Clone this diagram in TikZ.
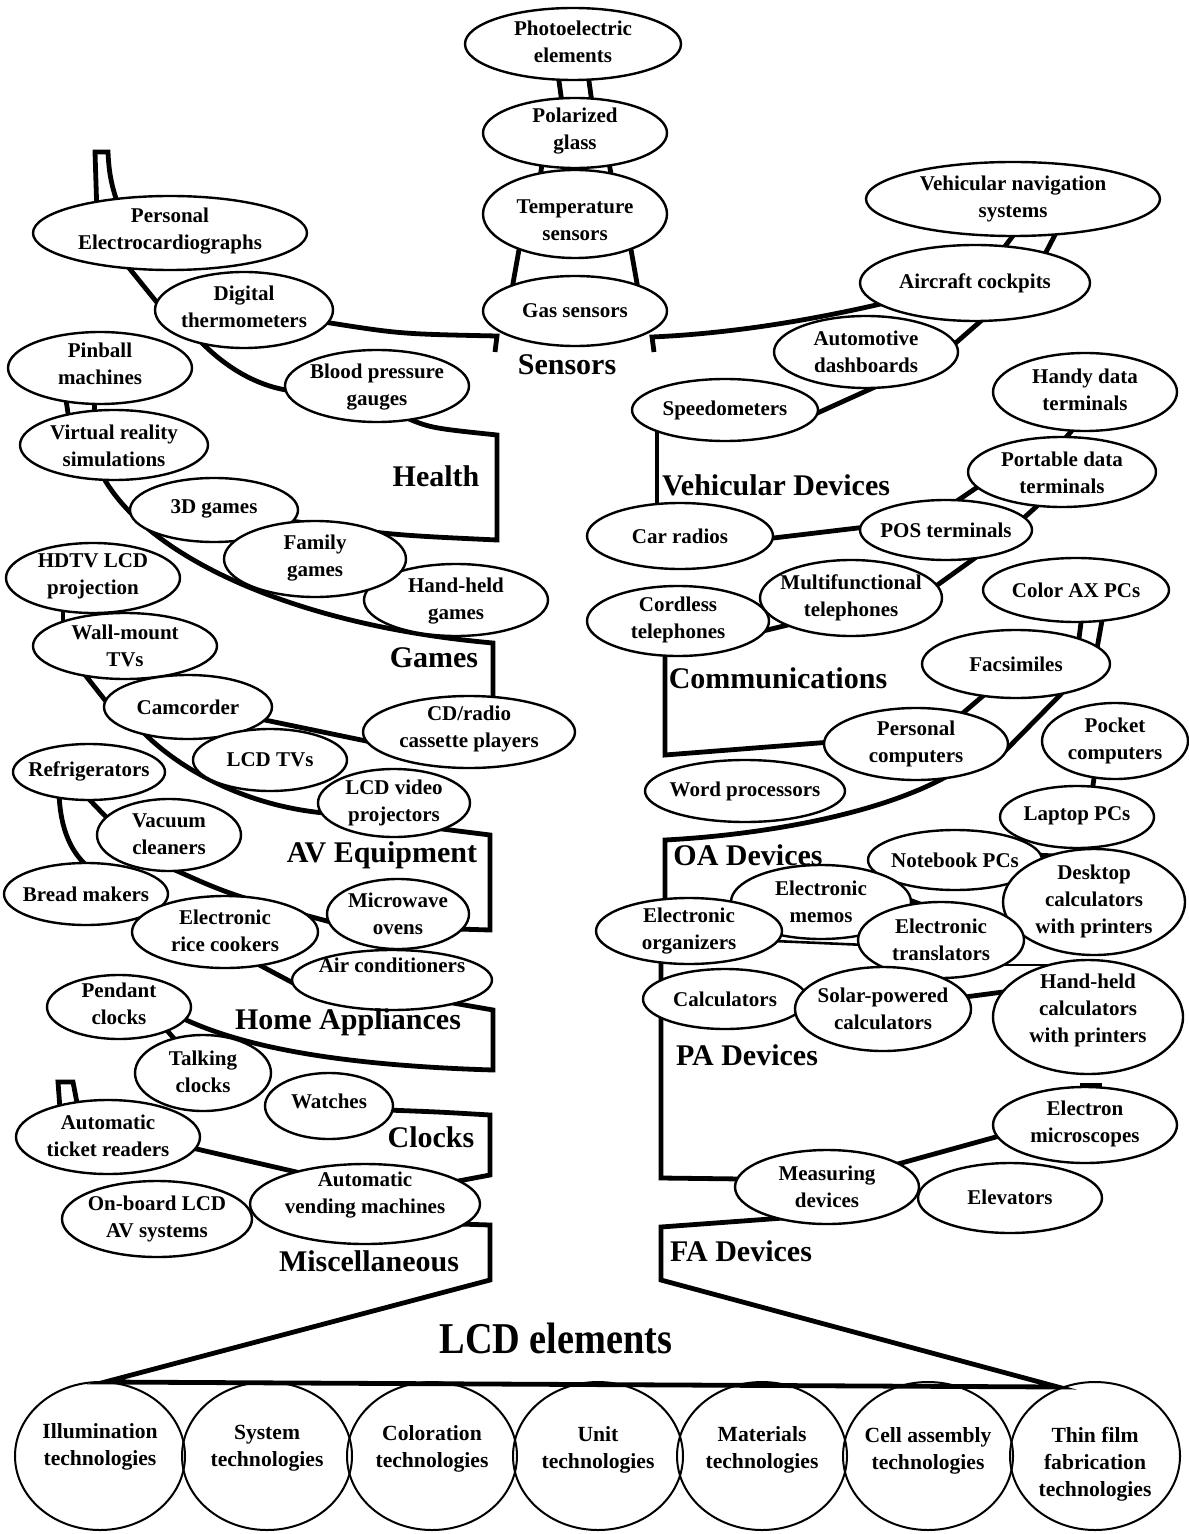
\documentclass[tikz,border=0pt]{standalone}
\usepackage{fontspec}
\setmainfont{Liberation Serif}
\newfontfamily\condfont{Liberation Serif}[FakeStretch=0.87]
\usetikzlibrary{shapes.geometric,calc}
\pgfdeclarelayer{bg}
\pgfdeclarelayer{fg}
\pgfsetlayers{bg,main,fg}
\tikzset{
 ell/.style={draw, ellipse, line width=1.2pt, fill=white, inner sep=0pt, outer sep=0pt},
 bell/.style={draw, ellipse, line width=1pt, inner sep=0pt, outer sep=0pt},
 nt/.style={font=\fontsize{10.5}{13.5}\selectfont\bfseries, align=center, inner sep=0pt},
 bt/.style={font=\fontsize{10.8}{13.5}\selectfont\bfseries, align=center, inner sep=0pt},
 hd/.style={font=\fontsize{15}{18}\selectfont\bfseries, inner sep=0pt},
 br/.style={line width=2.4pt, line join=miter},
 thinbr/.style={line width=1.3pt},
}
\newcommand\E[7]{\node[ell,minimum width=#4pt,minimum height=#5pt] (#1) at (#2,#3) {};%
\begin{pgfonlayer}{fg}\node[nt] (#1-t) at (#2,#6) {#7};\end{pgfonlayer}}
\begin{document}
\begin{tikzpicture}[x=0.5pt,y=-0.5pt]
\useasboundingbox (0,0) rectangle (1188,1534);
% ---------- sensors
\E{photo}{573}{44}{108}{36}{42}{Photoelectric\\elements}
\E{pol}{575}{133}{92}{35}{131}{Polarized\\glass}
\E{temp}{575}{214}{92}{44}{220}{Temperature\\sensors}
\E{gas}{575}{311}{92}{35}{311}{Gas sensors}
% ---------- left
\E{ecg}{170}{233}{137}{37}{231}{Personal\\Electrocardiographs}
\E{dig}{244}{310}{89}{38}{307}{Digital\\thermometers}
\E{bp}{377}{386}{92}{36}{387}{Blood pressure\\gauges}
\E{pin}{100}{368}{92}{36}{364}{Pinball\\machines}
\E{vr}{114}{445}{94}{35}{446}{Virtual reality\\simulations}
\E{gtd}{214}{510}{84}{32}{509}{3D games}
\E{hhg}{456}{600}{92}{36}{601}{Hand-held\\games}
\E{fam}{315}{559}{91}{38}{558}{Family\\games}
\E{hdtv}{93}{578}{87}{35}{576}{HDTV LCD\\projection}
\E{wall}{125}{646}{92}{33}{646}{Wall-mount\\TVs}
\E{cam}{188}{707}{84}{32}{707}{Camcorder}
\E{cd}{469}{732}{106}{36}{729}{CD/radio\\cassette players}
\E{ltv}{270}{760}{77}{31}{760}{LCD TVs}
\E{lvp}{394}{803}{76}{34}{803}{LCD video\\projectors}
\E{fridge}{89}{772}{76}{28}{771}{Refrigerators}
\E{vac}{169}{835}{72}{36}{834}{Vacuum\\cleaners}
\E{bread}{86}{894}{82}{31}{894}{Bread makers}
\E{mw}{398}{914}{71}{35}{914}{Microwave\\ovens}
\E{rice}{225}{932}{93}{36}{931}{Electronic\\rice cookers}
\E{ac}{392}{980}{100}{30}{965}{Air conditioners}
\E{pend}{119}{1007}{72}{32}{1004}{Pendant\\clocks}
\E{talk}{203}{1073}{68}{38}{1072}{Talking\\clocks}
\E{watch}{329}{1106}{64}{33}{1101}{Watches}
\E{atr}{108}{1137}{92}{37}{1136}{Automatic\\ticket readers}
\E{ob}{157}{1219}{95}{38}{1219}{On-board LCD\\AV systems}
\E{vm}{365}{1204}{115}{40}{1195}{Automatic\\vending machines}
% ---------- right
\E{nav}{1013}{199}{147}{37}{199}{Vehicular navigation\\systems}
\E{air}{975}{283}{115}{38}{283}{Aircraft cockpits}
\E{auto}{866}{352}{92}{36}{352}{Automotive\\dashboards}
\E{speedo}{725}{410}{93}{31}{410}{Speedometers}
\E{handy}{1085}{392}{92}{39}{390}{Handy data\\terminals}
\E{port}{1062}{472}{94}{35}{473}{Portable data\\terminals}
\E{car}{680}{536}{93}{33}{536}{Car radios}
\E{pos}{946}{530}{86}{30}{530}{POS terminals}
\E{multi}{851}{598}{91}{38}{598}{Multifunctional\\telephones}
\E{cord}{678}{621}{91}{35}{620}{Cordless\\telephones}
\E{colorax}{1076}{590}{93}{32}{590}{Color AX PCs}
\E{fax}{1016}{664}{94}{34}{664}{Facsimiles}
\E{pc}{916}{744}{92}{36}{744}{Personal\\computers}
\E{pocket}{1115}{741}{73}{38}{741}{Pocket\\computers}
\E{wp}{745}{791}{100}{31}{791}{Word processors}
\E{laptop}{1077}{817}{77}{31}{816}{Laptop PCs}
\E{nb}{955}{860}{87}{30}{860}{Notebook PCs}
\E{memo}{821}{902}{90}{37}{902}{Electronic\\memos}
\E{desk}{1094}{902}{91}{53}{901}{Desktop\\calculators\\with printers}
\E{org}{689}{931}{93}{33}{931}{Electronic\\organizers}
\E{trans}{941}{940}{83}{38}{940}{Electronic\\translators}
\E{calc}{725}{999}{82}{30}{999}{Calculators}
\E{solar}{883}{1009}{88}{42}{1009}{Solar-powered\\calculators}
\E{hhc}{1088}{1017}{95}{57}{1010}{Hand-held\\calculators\\with printers}
\E{em}{1085}{1125}{92}{38}{1124}{Electron\\microscopes}
\E{meas}{827}{1187}{92}{37}{1187}{Measuring\\devices}
\E{elev}{1010}{1198}{92}{35}{1197}{Elevators}
% ---------- bottom technologies
\foreach \n/\x in {b1/100,b2/267,b3/432,b4/598,b5/762,b6/928,b7/1095}
  \node[bell,minimum width=85pt,minimum height=74pt] (\n) at (\x,1456) {};
\node[bt] (b1-t) at (100,1447) {Illumination\\technologies};
\node[bt] (b2-t) at (267,1448) {System\\technologies};
\node[bt] (b3-t) at (432,1449) {Coloration\\technologies};
\node[bt] (b4-t) at (598,1450) {Unit\\technologies};
\node[bt] (b5-t) at (762,1450) {Materials\\technologies};
\node[bt] (b6-t) at (928,1451) {Cell assembly\\technologies};
\node[bt] (b7-t) at (1095,1464) {Thin film\\fabrication\\technologies};
% ---------- headers
\node[hd] (hSens) at (567,365) {Sensors};
\node[hd] (hHealth) at (436,476) {Health};
\node[hd] (hGames) at (434,658) {Games};
\node[hd] (hAV) at (382,855) {AV Equipment};
\node[hd] (hHome) at (348,1022) {Home Appliances};
\node[hd] (hClocks) at (431,1137) {Clocks};
\node[hd] (hMisc) at (369,1261) {Miscellaneous};
\node[hd] (hVeh) at (776,485) {Vehicular Devices};
\node[hd] (hComm) at (778,678) {Communications};
\node[hd] (hOA) at (748,855) {OA Devices};
\node[hd] (hPA) at (747,1055) {PA Devices};
\node[hd] (hFA) at (741,1251) {FA Devices};
\node[font=\fontsize{22}{24}\selectfont\condfont\bfseries, inner sep=0pt] (hLCD) at (556,1338) {LCD elements};
% ---------- named corner coordinates
\coordinate (sL) at (497,336); \coordinate (sLb) at (495,352);
\coordinate (sR) at (652,337); \coordinate (sRb) at (654,352);
\coordinate (hlT) at (497,435); \coordinate (hlB) at (497,540);
\coordinate (gmT) at (493,643);
\coordinate (avT) at (490,835); \coordinate (avB) at (490,930);
\coordinate (haT) at (493,1010); \coordinate (haB) at (493,1070);
\coordinate (clT) at (490,1115); \coordinate (clB) at (490,1175);
\coordinate (msT) at (490,1225); \coordinate (msB) at (490,1280);
\coordinate (baseL) at (105,1382); \coordinate (baseR) at (1058,1387);
\coordinate (faB) at (661,1280); \coordinate (faT) at (661,1227);
\coordinate (paB) at (661,1178);
\coordinate (oaT) at (665,840);
\coordinate (cmB) at (665,755);
\coordinate (tubeL) at (95,152); \coordinate (tubeR) at (108,152);
\coordinate (tabL) at (58,1082); \coordinate (tabR) at (73,1082);
% ---------- connectors
\begin{pgfonlayer}{bg}
% sensors column
\draw[br] ($(photo)+(-15,30)$) -- ($(pol)+(-13,-30)$);
\draw[br] ($(photo)+(15,30)$) -- ($(pol)+(17,-30)$);
\draw[br] ($(pol)+(-32,25)$) -- ($(temp)+(-36,-30)$);
\draw[br] ($(pol)+(33,25)$) -- ($(temp)+(38,-30)$);
\draw[br] ($(temp)+(-55,30)$) -- ($(gas)+(-63,-22)$);
\draw[br] ($(temp)+(55,30)$) -- ($(gas)+(63,-22)$);
\draw[br] ($(dig)+(80,12)$) .. controls (400,334) .. (sL) -- (sLb);
\draw[br] (sRb) -- (sR) .. controls (740,333) and (820,318) .. ($(air)+(-90,20)$);
% health
\draw[br] ($(ecg)+(-73,-18)$) -- (tubeL) -- (tubeR) .. controls (109,175) and (112,188) .. ($(ecg)+(-50,-23)$);
\draw[br] ($(ecg)+(-45,30)$) -- ($(dig)+(-85,-5)$);
\draw[br] ($(dig)+(-45,30)$) .. controls (230,372) and (262,387) .. ($(bp)+(-85,5)$);
\draw[br] ($(bp)+(25,30)$) .. controls (430,428) .. (hlT) -- (hlB) .. controls (390,535) .. ($(gtd)+(70,10)$);
% games
\draw[br] ($(pin)+(-35,25)$) -- ($(vr)+(-45,-25)$);
\draw[br] ($(pin)+(-5,30)$) -- ($(vr)+(-20,-30)$);
\draw[br] ($(vr)+(-12,30)$) .. controls (145,555) and (290,625) .. (gmT) -- ($(cd)+(24,-25)$);
% AV
\draw[br] ($(hdtv)+(-30,28)$) -- ($(wall)+(-62,-20)$);
\draw[br] ($(hdtv)+(5,30)$) -- ($(wall)+(-25,-28)$);
\draw[br] ($(wall)+(-43,25)$) -- ($(cam)+(-80,-3)$);
\draw[br] ($(cam)+(-45,25)$) .. controls (175,765) and (240,805) .. ($(lvp)+(-70,10)$);
\draw[br] ($(cam)+(72,12)$) -- ($(cd)+(-98,10)$);
\draw[br] ($(lvp)+(40,25)$) -- (avT) -- (avB) -- ($(mw)+(60,15)$);
% home appliances
\draw[br] ($(fridge)+(-30,20)$) .. controls (60,830) and (72,855) .. ($(bread)+(5,-25)$);
\draw[br] ($(fridge)+(-5,22)$) -- ($(vac)+(-60,-15)$);
\draw[br] ($(vac)+(-5,30)$) .. controls (230,895) .. ($(mw)+(-60,10)$);
\draw[br] ($(rice)+(25,28)$) -- ($(ac)+(-95,5)$);
\draw[br] ($(ac)+(55,22)$) -- (haT) -- (haB) .. controls (330,1065) and (240,1045) .. ($(pend)+(65,12)$);
% clocks
\draw[br] ($(pend)+(45,20)$) -- ($(talk)+(-25,-30)$);
\draw[br] ($(watch)+(58,4)$) .. controls (440,1112) .. (clT) -- (clB) -- ($(vm)+(88,-22)$);
% miscellaneous
\draw[br] ($(atr)+(-48,-28)$) -- (tabL) -- (tabR) -- ($(atr)+(-30,-29)$);
\draw[br] ($(atr)+(80,10)$) -- ($(vm)+(-60,-30)$);
% vehicular
\draw[br] ($(nav)+(5,30)$) -- ($(air)+(25,-30)$);
\draw[br] ($(nav)+(45,30)$) -- ($(air)+(68,-25)$);
\draw[br] ($(air)+(15,30)$) -- ($(auto)+(85,-5)$);
\draw[br] ($(auto)+(20,30)$) -- ($(speedo)+(88,5)$);
\draw[br] ($(speedo)+(-68,10)$) -- ($(car)+(-23,-10)$);
% communications
\draw[br] ($(car)+(85,3)$) -- ($(pos)+(-80,-3)$);
\draw[br] ($(pos)+(5,-25)$) -- ($(port)+(-80,12)$);
\draw[br] ($(pos)+(70,-5)$) -- ($(port)+(-15,25)$);
\draw[br] ($(handy)+(-10,35)$) -- ($(port)+(0,-30)$);
\draw[br] ($(pos)+(40,20)$) -- ($(multi)+(85,-12)$);
\draw[br] ($(multi)+(-55,25)$) -- ($(cord)+(85,10)$);
\draw[br] ($(cord)+(-13,30)$) -- (cmB) -- ($(pc)+(-85,-2)$);
% OA
\draw[br] ($(colorax)+(6,25)$) -- ($(fax)+(62,-18)$);
\draw[br] ($(colorax)+(27,25)$) -- ($(fax)+(80,-10)$);
\draw[br] ($(fax)+(-25,25)$) -- ($(pc)+(40,-25)$);
\draw[br] ($(fax)+(50,25)$) -- ($(pc)+(88,8)$);
\draw[br] ($(pc)+(35,30)$) .. controls (880,815) and (760,835) .. (oaT) -- ($(org)+(-24,-20)$);
\draw[br] ($(pocket)+(-20,30)$) -- ($(laptop)+(15,-25)$);
\draw[br] ($(nb)+(80,-5)$) -- ($(desk)+(-20,-45)$);
\draw[br] ($(memo)+(80,-5)$) -- ($(trans)+(-10,-32)$);
% PA
\draw[thinbr] ($(org)+(85,10)$) -- ($(trans)+(-75,5)$);
\draw[thinbr] ($(trans)+(62,25)$) -- ($(hhc)+(-20,-52)$);
\draw[br] ($(solar)+(82,-12)$) -- ($(hhc)+(-85,-25)$);
\draw[br] ($(org)+(-28,25)$) -- (paB) -- ($(meas)+(-85,-8)$);
% FA and trunk
\draw[br] ($(meas)+(60,-20)$) -- ($(em)+(-82,10)$);
\draw[br] ($(em)+(-5,-40)$) -- ($(em)+(17,-40)$);
\draw[br] ($(meas)+(-30,30)$) -- (faT) -- (faB) -- (baseR) -- (baseL) -- (msB) -- (msT) -- ($(vm)+(95,20)$);
\end{pgfonlayer}
\end{tikzpicture}
\end{document}
